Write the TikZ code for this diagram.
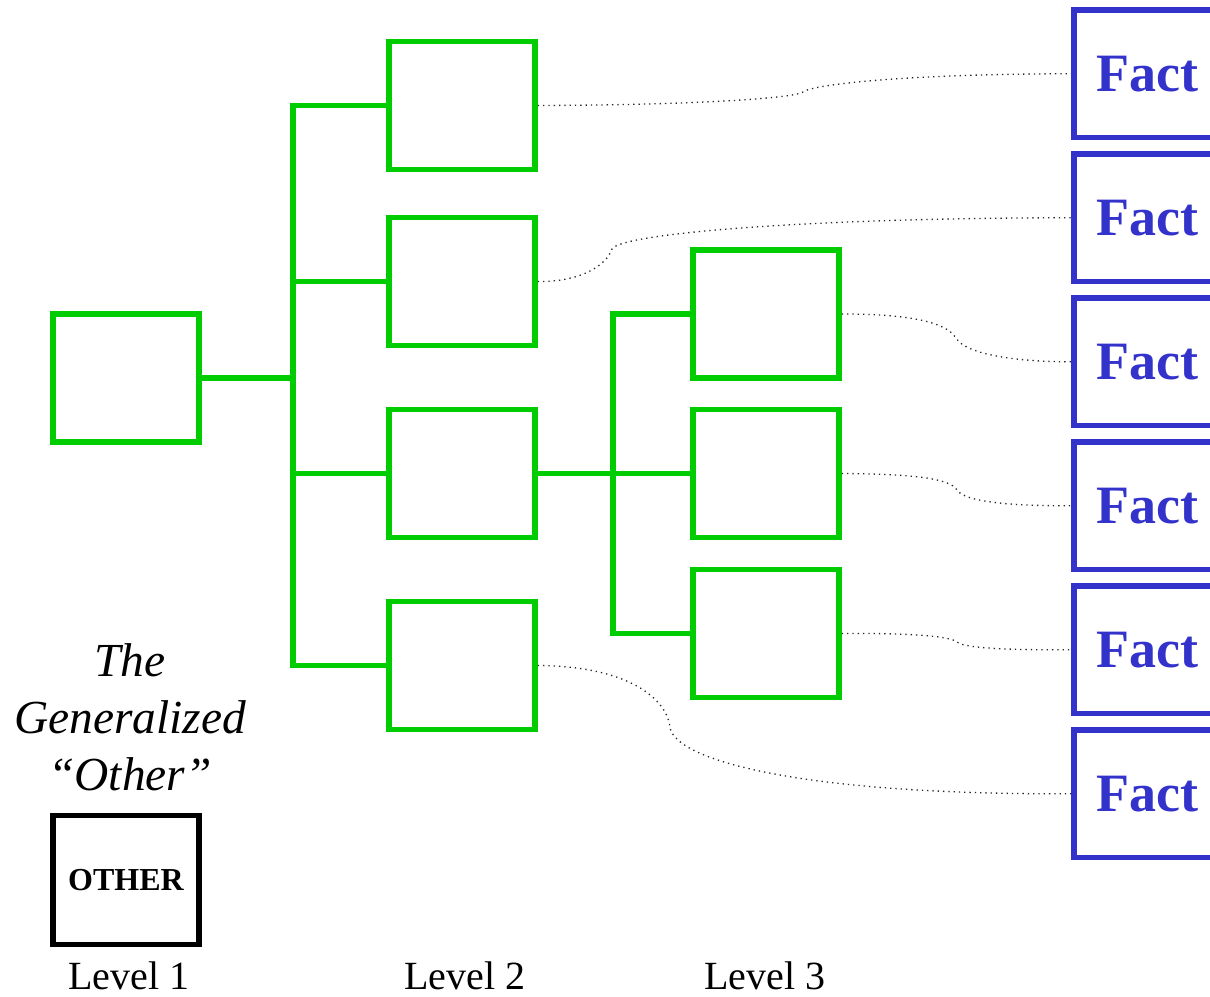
\documentclass[tikz,border=0pt]{standalone}
\usepackage{fontspec}
\setmainfont{Liberation Serif}
\definecolor{treegreen}{HTML}{00CC00}
\definecolor{factblue}{HTML}{3333CC}
\begin{document}
\begin{tikzpicture}[x=0.5pt,y=-0.5pt,
  cell/.style={draw=treegreen,line width=2.8pt,minimum width=73pt,minimum height=64pt,inner sep=0pt},
  tree/.style={draw=treegreen,line width=2.8pt},
  fact/.style={draw=factblue,line width=2.8pt,minimum width=73pt,minimum height=63.75pt,inner sep=0pt,
    text=factblue,font=\fontsize{27}{27}\selectfont\bfseries},
  link/.style={draw=black!85,line width=0.65pt,dotted},
  lvl/.style={font=\fontsize{20}{24}\selectfont},
]
\clip (0,0) rectangle (1210,996);
\fill[white] (0,0) rectangle (1210,996);

% level 1
\node[cell] (l1) at (126,378) {};
% level 2
\node[cell] (b21) at (462,105.5) {};
\node[cell] (b22) at (462,281.5) {};
\node[cell] (b23) at (462,473.5) {};
\node[cell] (b24) at (462,665.5) {};
% level 3
\node[cell] (b31) at (766,314) {};
\node[cell] (b32) at (766,473.5) {};
\node[cell] (b33) at (766,633.5) {};

% facts
\foreach \i in {1,...,6}{
  \node[fact] (f\i) at (1147,{73.75+144*(\i-1)}) {Fact};
}

% branch lines
\coordinate (j1) at (293,378);
\coordinate (j2) at (613,473.5);
\draw[tree] (l1.east) -- (j1);
\draw[tree,line join=miter] (b21.west) -- (b21.west -| j1) -- (b24.west -| j1) -- (b24.west);
\draw[tree] (b22.west -| j1) -- (b22.west);
\draw[tree] (b23.west -| j1) -- (b23.west);
\draw[tree] (b23.east) -- (b32.west);
\draw[tree,line join=miter] (b31.west) -- (b31.west -| j2) -- (b33.west -| j2) -- (b33.west);

% dotted links to the facts
\draw[link] (b21.east) .. controls (700,105) and (795,98) .. (803,92)
  .. controls (811,85) and (900,74) .. (f1.west);
\draw[link] (b22.east) .. controls (580,282) and (606,266) .. (612,249)
  .. controls (620,234) and (800,218) .. (f2.west);
\draw[link] (b31.east) .. controls (900,314) and (945,320) .. (956,338)
  .. controls (966,355) and (1020,362) .. (f3.west);
\draw[link] (b32.east) .. controls (910,474) and (950,478) .. (957,490)
  .. controls (965,503) and (1020,506) .. (f4.west);
\draw[link] (b33.east) .. controls (910,633) and (950,636) .. (957,642)
  .. controls (965,649) and (1020,650) .. (f5.west);
\draw[link] (b24.east) .. controls (630,666) and (667,700) .. (670,727)
  .. controls (674,760) and (800,795) .. (f6.west);

% the generalized other
\node[font=\fontsize{23.7}{28.5}\selectfont\itshape,align=center] (gen) at (130,717)
  {The\\Generalized\\“Other”};
\node[draw=black,line width=2.6pt,minimum width=73pt,minimum height=64.5pt,inner sep=0pt,
  font=\fontsize{16}{16}\selectfont\bfseries] (other) at (126,880) {OTHER};

% level captions
\node[lvl] (lv1) at (129,976) {Level 1};
\node[lvl] (lv2) at (465,976) {Level 2};
\node[lvl] (lv3) at (765,976) {Level 3};
\end{tikzpicture}
\end{document}
